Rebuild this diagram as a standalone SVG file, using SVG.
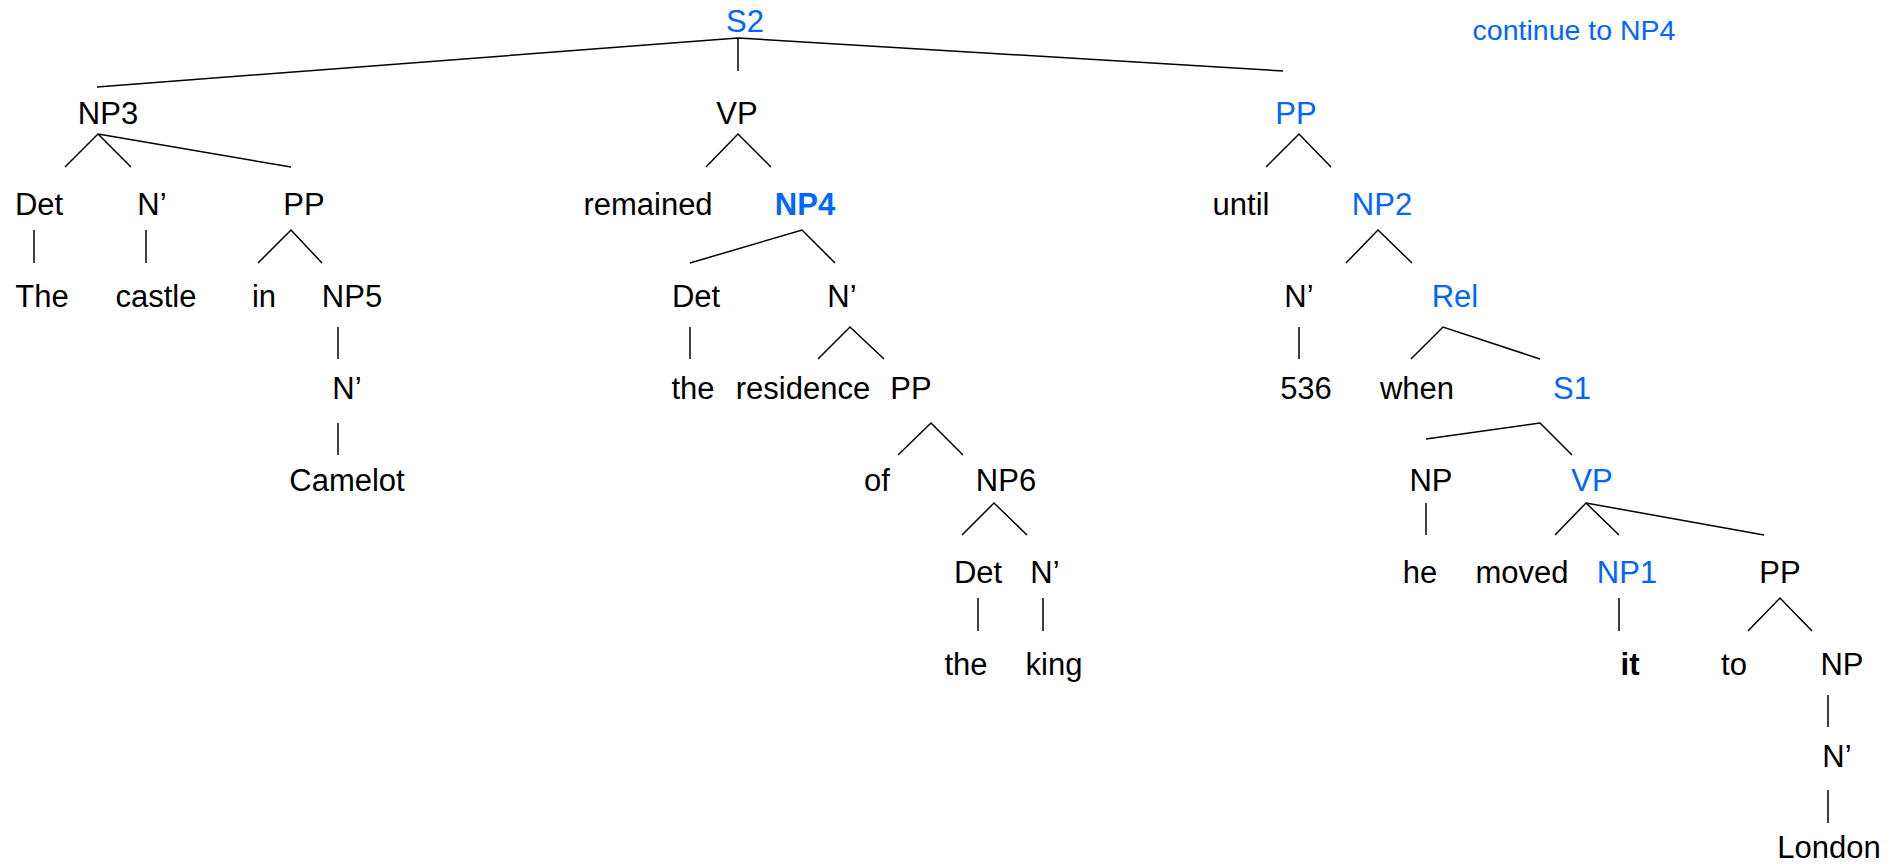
<svg xmlns="http://www.w3.org/2000/svg" width="1899" height="864" viewBox="0 0 1899 864">
<style>
text{font-family:"Liberation Sans",Arial,sans-serif;font-size:31px;fill:#000;text-anchor:middle}
.b{fill:#0066ff}
.bold{font-weight:bold}
.note{font-size:28.5px}
.edges path{fill:none;stroke:#000;stroke-width:1.5}
</style>
<rect width="1899" height="864" fill="#fff"/>
<g class="edges" id="connectors">
<path d="M738,38 V71 M738,38 L97,87 M738,38 L1283,71"/>
<path d="M65,167 L98,134 L131,167 M98,134 L291,167"/>
<path d="M706,167 L738,134 L771,167"/>
<path d="M1266,167 L1299,134 L1331,167"/>
<path d="M34,230 V263 M146,230 V263"/>
<path d="M258,263 L291,230 L322,263"/>
<path d="M690,263 L802,230 L835,263"/>
<path d="M1346,263 L1378,230 L1412,263"/>
<path d="M338,327 V359 M690,327 V359 M1299,327 V359"/>
<path d="M818,359 L850,327 L884,359"/>
<path d="M1411,359 L1443,327 L1540,359"/>
<path d="M338,423 V455"/>
<path d="M898,455 L931,423 L963,455"/>
<path d="M1426,439 L1540,423 L1572,455"/>
<path d="M962,535 L994,503 L1027,535"/>
<path d="M1426,503 V535"/>
<path d="M1555,535 L1586,503 L1619,535 M1586,503 L1764,535"/>
<path d="M978,598 V631 M1043,598 V631 M1619,598 V631"/>
<path d="M1748,631 L1780,598 L1812,631"/>
<path d="M1828,695 V727 M1828,790 V823"/>
</g>
<g id="note"><text class="b note" x="1574" y="40">continue to NP4</text></g>
<g id="S2"><text class="b" x="745" y="32">S2</text></g>
<g id="NP3"><text x="108" y="124">NP3</text></g>
<g id="VP"><text x="737" y="124">VP</text></g>
<g id="PP-top"><text class="b" x="1296" y="124">PP</text></g>
<g id="Det1"><text x="39" y="215">Det</text></g>
<g id="N1"><text x="152" y="215">N’</text></g>
<g id="PP1"><text x="304" y="215">PP</text></g>
<g id="remained"><text x="648" y="215">remained</text></g>
<g id="NP4"><text class="b bold" x="805" y="215">NP4</text></g>
<g id="until"><text x="1241" y="215">until</text></g>
<g id="NP2"><text class="b" x="1382" y="215">NP2</text></g>
<g id="The"><text x="42" y="307">The</text></g>
<g id="castle"><text x="156" y="307">castle</text></g>
<g id="in"><text x="264" y="307">in</text></g>
<g id="NP5"><text x="352" y="307">NP5</text></g>
<g id="Det2"><text x="696" y="307">Det</text></g>
<g id="N2"><text x="842" y="307">N’</text></g>
<g id="N3"><text x="1299" y="307">N’</text></g>
<g id="Rel"><text class="b" x="1455" y="307">Rel</text></g>
<g id="N4"><text x="347" y="399">N’</text></g>
<g id="the1"><text x="693" y="399">the</text></g>
<g id="residence"><text x="803" y="399">residence</text></g>
<g id="PP2"><text x="911" y="399">PP</text></g>
<g id="n536"><text x="1306" y="399">536</text></g>
<g id="when"><text x="1417" y="399">when</text></g>
<g id="S1"><text class="b" x="1572" y="399">S1</text></g>
<g id="Camelot"><text x="347" y="491">Camelot</text></g>
<g id="of"><text x="877" y="491">of</text></g>
<g id="NP6"><text x="1006" y="491">NP6</text></g>
<g id="NP"><text x="1431" y="491">NP</text></g>
<g id="VP1"><text class="b" x="1592" y="491">VP</text></g>
<g id="Det3"><text x="978" y="583">Det</text></g>
<g id="N5"><text x="1045" y="583">N’</text></g>
<g id="he"><text x="1420" y="583">he</text></g>
<g id="moved"><text x="1522" y="583">moved</text></g>
<g id="NP1"><text class="b" x="1627" y="583">NP1</text></g>
<g id="PP3"><text x="1780" y="583">PP</text></g>
<g id="the2"><text x="966" y="675">the</text></g>
<g id="king"><text x="1054" y="675">king</text></g>
<g id="it"><text class="bold" x="1630" y="675">it</text></g>
<g id="to"><text x="1734" y="675">to</text></g>
<g id="NP7"><text x="1842" y="675">NP</text></g>
<g id="N6"><text x="1837" y="767">N’</text></g>
<g id="London"><text x="1829" y="858">London</text></g>
</svg>
